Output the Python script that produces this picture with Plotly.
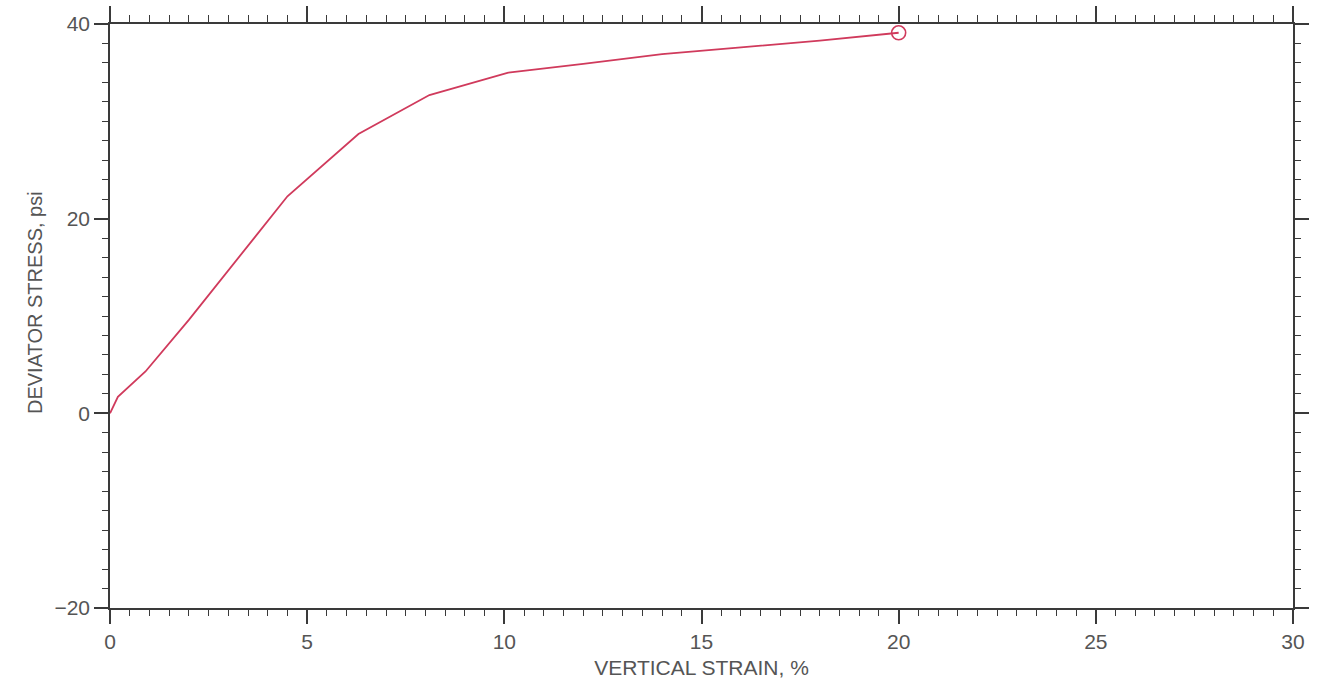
import plotly.graph_objects as go

strain = [0, 0.2, 0.9, 2.0, 4.5, 6.3, 8.1, 10.1, 12.0, 14.0, 16.0, 18.0, 20.0]
stress = [0, 1.7, 4.3, 9.6, 22.3, 28.7, 32.7, 35.0, 35.9, 36.9, 37.6, 38.3, 39.1]
end_strain = [20.0]
end_stress = [39.1]

x_ticks = [0, 5, 10, 15, 20, 25, 30]
y_ticks = [-20, 0, 20, 40]

x_title = "VERTICAL STRAIN, %"
y_title = "DEVIATOR STRESS, psi"

line_color = "#d03a5c"
axis_color = "#3a3a3a"
font = dict(family="Liberation Sans, Arial, sans-serif", size=21, color="#555555")

fig = go.Figure()
fig.add_trace(go.Scatter(x=strain, y=stress, mode="lines",
                         line=dict(color=line_color, width=1.8), showlegend=False))
fig.add_trace(go.Scatter(x=end_strain, y=end_stress, mode="markers",
                         marker=dict(symbol="circle-open", size=14, color=line_color,
                                     line=dict(width=1.6, color=line_color)),
                         showlegend=False))
# invisible trace for mirrored axes
fig.add_trace(go.Scatter(x=[0], y=[0], xaxis="x2", yaxis="y2", mode="markers",
                         marker=dict(opacity=0), showlegend=False, hoverinfo="skip"))

common = dict(showgrid=False, zeroline=False, showline=True, linecolor=axis_color,
              linewidth=1.5, ticks="outside", tickcolor=axis_color, tickwidth=1.5,
              automargin=False)

fig.update_layout(
    width=1319, height=685,
    margin=dict(l=110, r=26, t=24, b=77, autoexpand=False),
    plot_bgcolor="white", paper_bgcolor="white",
    font=font,
    xaxis=dict(range=[0, 30], tickvals=x_ticks, ticklen=14,
               minor=dict(dtick=0.5, ticklen=6, tickcolor=axis_color, tickwidth=1.2, ticks="outside"),
               title=dict(text=x_title, font=dict(size=21, color="#555555"), standoff=8),
               tickfont=dict(size=21), **common),
    yaxis=dict(range=[-20, 40], tickvals=y_ticks, ticklen=14,
               minor=dict(dtick=2, ticklen=6, tickcolor=axis_color, tickwidth=1.2, ticks="outside"),
               tickfont=dict(size=21), **common),
    xaxis2=dict(range=[0, 30], overlaying="x", side="top", anchor="y", matches="x",
                tickvals=x_ticks, ticklen=16, showticklabels=False,
                minor=dict(dtick=0.5, ticklen=7, tickcolor=axis_color, tickwidth=1.2, ticks="outside"),
                **common),
    yaxis2=dict(range=[-20, 40], overlaying="y", side="right", anchor="x", matches="y",
                tickvals=y_ticks, ticklen=14, showticklabels=False,
                minor=dict(dtick=2, ticklen=6, tickcolor=axis_color, tickwidth=1.2, ticks="outside"),
                **common),
    annotations=[dict(text=y_title, xref="paper", yref="paper",
                      x=(22 - 110) / 1183, y=(608 - 303) / 584,
                      textangle=-90, showarrow=False,
                      font=dict(size=20, color="#555555"))],
)

fig.write_html("out.html")
